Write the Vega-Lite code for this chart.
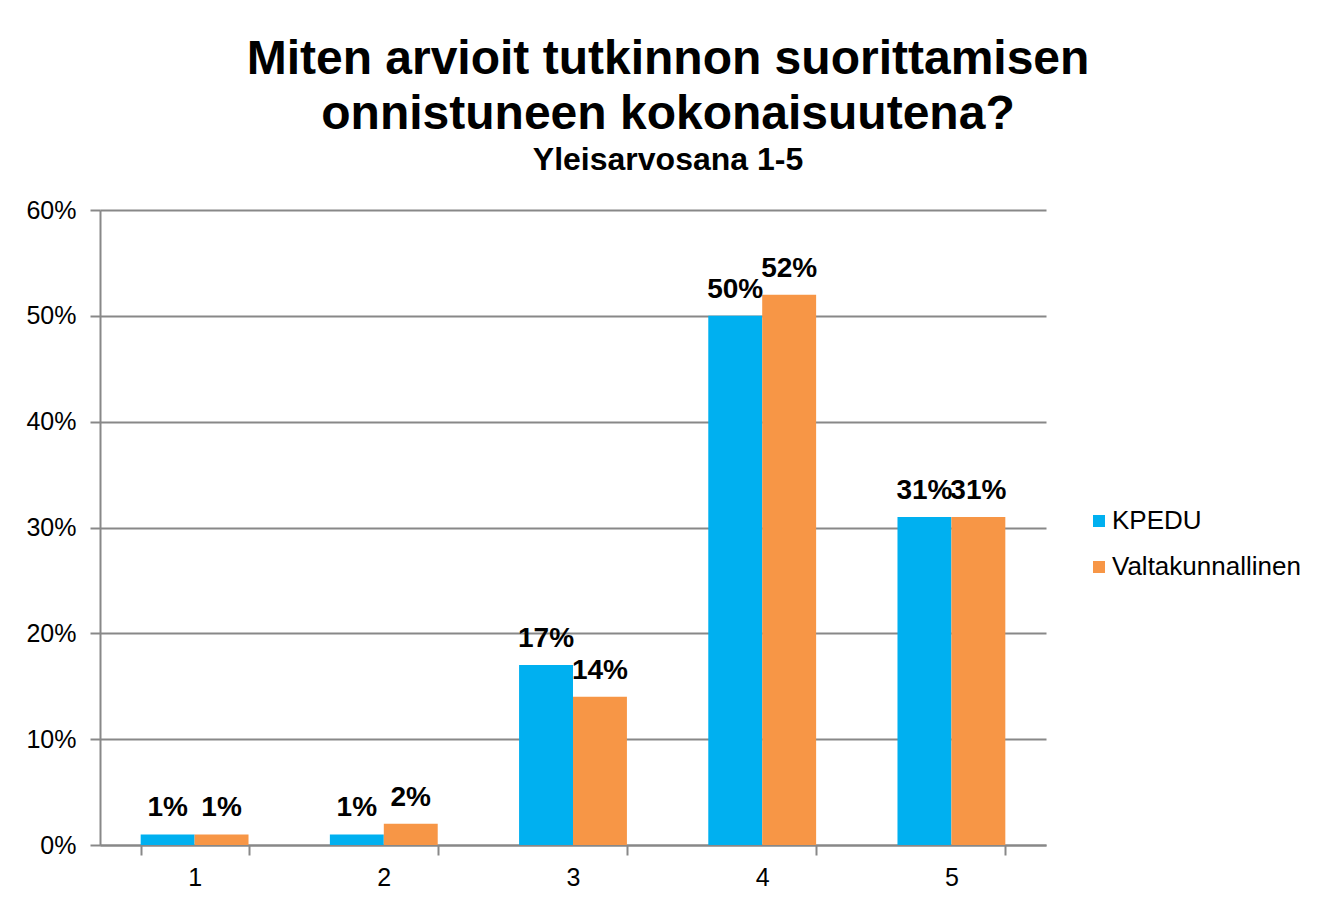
{
  "$schema": "https://vega.github.io/schema/vega-lite/v6.json",
  "width": 946,
  "height": 635,
  "autosize": "none",
  "padding": {"left": 100, "top": 210, "right": 290, "bottom": 56},
  "background": "white",
  "title": {
    "text": ["Miten arvioit tutkinnon suorittamisen", "onnistuneen kokonaisuutena?"],
    "subtitle": "Yleisarvosana 1-5",
    "anchor": "middle",
    "dx": 95,
    "font": "Liberation Sans",
    "fontSize": 48,
    "fontWeight": "bold",
    "color": "black",
    "lineHeight": 55,
    "subtitleFont": "Liberation Sans",
    "subtitleFontSize": 32,
    "subtitleFontWeight": "bold",
    "subtitleColor": "black",
    "subtitlePadding": 6,
    "offset": 22
  },
  "data": {
    "values": [
      {"cat": "1", "series": "KPEDU", "value": 0.01},
      {"cat": "1", "series": "Valtakunnallinen", "value": 0.01},
      {"cat": "2", "series": "KPEDU", "value": 0.01},
      {"cat": "2", "series": "Valtakunnallinen", "value": 0.02},
      {"cat": "3", "series": "KPEDU", "value": 0.17},
      {"cat": "3", "series": "Valtakunnallinen", "value": 0.14},
      {"cat": "4", "series": "KPEDU", "value": 0.50},
      {"cat": "4", "series": "Valtakunnallinen", "value": 0.52},
      {"cat": "5", "series": "KPEDU", "value": 0.31},
      {"cat": "5", "series": "Valtakunnallinen", "value": 0.31}
    ]
  },
  "encoding": {
    "x": {
      "field": "cat",
      "type": "nominal",
      "scale": {"paddingInner": 0.43, "paddingOuter": 0.215},
      "axis": {
        "title": null,
        "labelAngle": 0,
        "labelFont": "Liberation Sans",
        "labelFontSize": 25,
        "labelColor": "black",
        "labelPadding": 10,
        "tickBand": "extent",
        "tickSize": 10,
        "tickColor": "#888888",
        "tickWidth": 2,
        "domainColor": "#888888",
        "domainWidth": 2,
        "grid": false
      }
    },
    "xOffset": {"field": "series", "type": "nominal", "scale": {"paddingInner": 0, "paddingOuter": 0}},
    "y": {
      "field": "value",
      "type": "quantitative",
      "scale": {"domain": [0, 0.6]},
      "axis": {
        "title": null,
        "format": ".0%",
        "values": [0, 0.1, 0.2, 0.3, 0.4, 0.5, 0.6],
        "labelFont": "Liberation Sans",
        "labelFontSize": 25,
        "labelColor": "black",
        "labelPadding": 14,
        "tickSize": 10,
        "tickColor": "#888888",
        "tickWidth": 2,
        "domainColor": "#888888",
        "domainWidth": 2,
        "gridColor": "#888888",
        "gridWidth": 2
      }
    }
  },
  "layer": [
    {
      "mark": {"type": "bar"},
      "encoding": {
        "color": {
          "field": "series",
          "type": "nominal",
          "scale": {"domain": ["KPEDU", "Valtakunnallinen"], "range": ["#00B0F0", "#F79646"]},
          "legend": {
            "title": null,
            "orient": "none",
            "legendX": 986,
            "legendY": 298,
            "symbolType": "square",
            "symbolSize": 144,
            "symbolStrokeWidth": 0,
            "labelFont": "Liberation Sans",
            "labelFontSize": 26,
            "labelColor": "black",
            "labelOffset": 0,
            "labelLimit": 0,
            "rowPadding": 20
          }
        }
      }
    },
    {
      "mark": {
        "type": "text",
        "baseline": "alphabetic",
        "dy": -18,
        "font": "Liberation Sans",
        "fontSize": 28,
        "fontWeight": "bold",
        "color": "black"
      },
      "encoding": {
        "text": {"field": "value", "type": "quantitative", "format": ".0%"}
      }
    }
  ],
  "config": {
    "view": {"stroke": null}
  }
}
